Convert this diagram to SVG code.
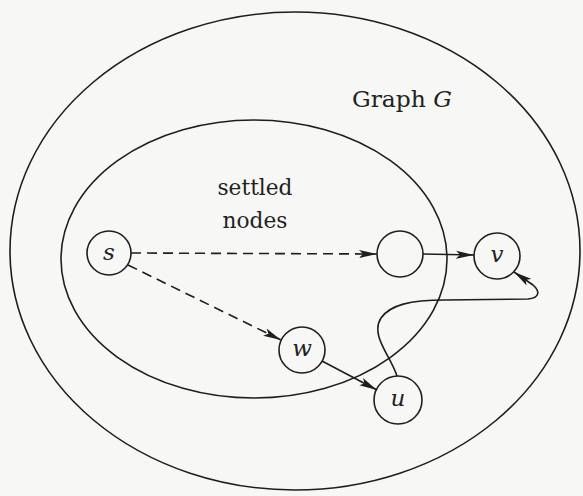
<svg xmlns="http://www.w3.org/2000/svg" width="583" height="496" viewBox="0 0 583 496">
<defs>
<style>
.reg{fill:none;stroke:#1e1e1e;stroke-width:1.6}
.nd{fill:none;stroke:#1e1e1e;stroke-width:1.6}
.lbl{font-family:"DejaVu Serif",serif;font-size:23px;fill:#222;text-anchor:middle}
.it{font-style:italic}
.e{fill:none;stroke:#1e1e1e;stroke-width:1.6}
.dash{stroke-dasharray:10 6}
</style>
<marker id="ah" viewBox="0 0 18 10" refX="18" refY="5" markerWidth="18" markerHeight="10" markerUnits="userSpaceOnUse" orient="auto">
<path d="M0,1 L18,5 L0,9 L4,5 Z" fill="#1e1e1e"/>
</marker>
</defs>
<rect width="583" height="496" fill="#f7f7f5"/>
<g id="graphG">
<ellipse class="reg" cx="295" cy="251" rx="285" ry="239"/>
<text class="lbl" x="402" y="107" textLength="100" lengthAdjust="spacingAndGlyphs">Graph <tspan class="it">G</tspan></text>
</g>
<g id="settled">
<ellipse class="reg" cx="254" cy="259" rx="193" ry="139"/>
<text class="lbl" x="255" y="195" textLength="75" lengthAdjust="spacingAndGlyphs">settled</text>
<text class="lbl" x="255" y="228" textLength="65" lengthAdjust="spacingAndGlyphs">nodes</text>
</g>
<g id="node-s"><circle class="nd" cx="109" cy="253" r="22"/><text class="lbl it" x="109" y="260">s</text></g>
<g id="node-x"><circle class="nd" cx="400" cy="254" r="23"/></g>
<g id="node-v"><circle class="nd" cx="497" cy="256" r="23"/><text class="lbl it" x="497" y="262">v</text></g>
<g id="node-w"><circle class="nd" cx="302" cy="350" r="23"/><text class="lbl it" x="302" y="356">w</text></g>
<g id="node-u"><circle class="nd" cx="398" cy="400" r="24"/><text class="lbl it" x="398" y="406">u</text></g>
<g id="connectors">
<path class="e dash" d="M131,253 L377,254" marker-end="url(#ah)"/>
<path class="e dash" d="M128,265 L281,340" marker-end="url(#ah)"/>
<path class="e" d="M423,254 L474,255" marker-end="url(#ah)"/>
<path class="e" d="M322,361 L377,390" marker-end="url(#ah)"/>
<path class="e" d="M397,376 C390,355 370,335 381,318 C390,305 410,300 445,300 L528,299 C540,298 540,291 533,285 L514,272" marker-end="url(#ah)"/>
</g>
</svg>
